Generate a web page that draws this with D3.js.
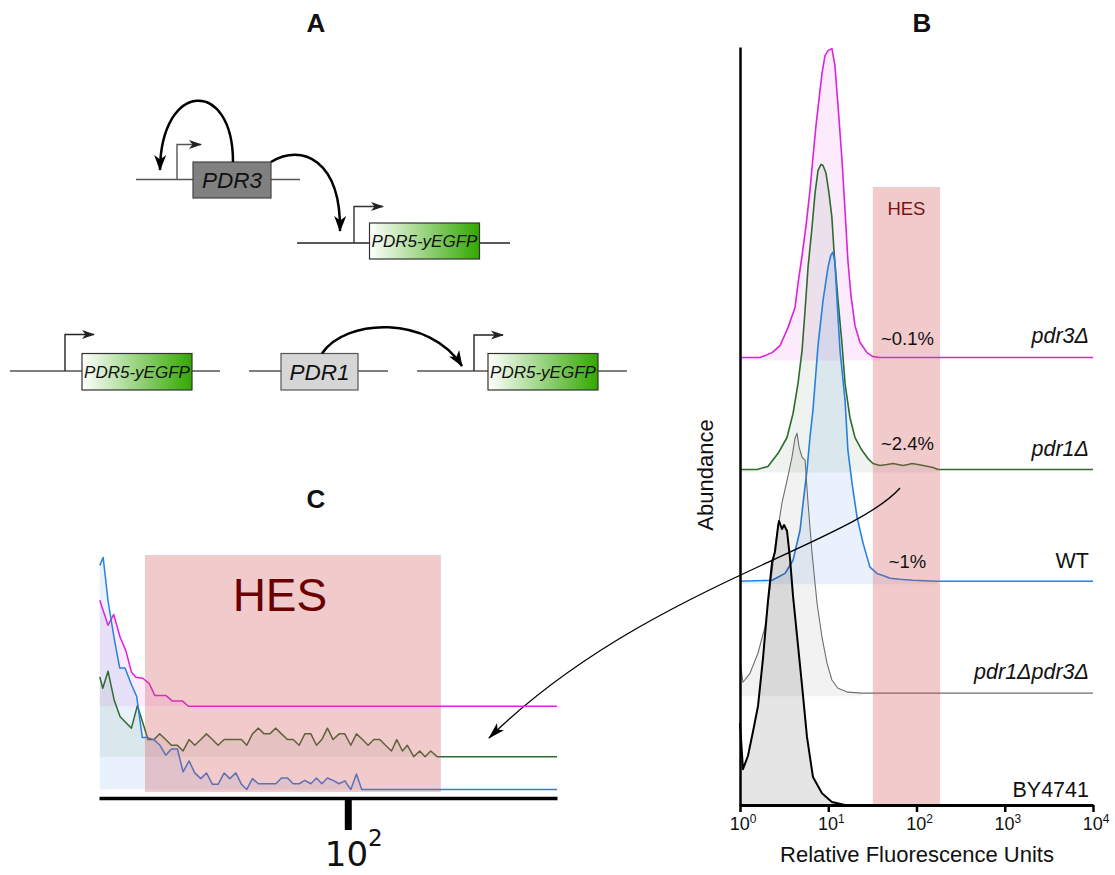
<!DOCTYPE html>
<html><head><meta charset="utf-8">
<script src="https://cdn.jsdelivr.net/npm/d3@7"></script>
<style>
body{margin:0;background:#fff}
text{font-family:"Liberation Sans",Arial,Helvetica,sans-serif;fill:#111}
</style>
</head><body>
<svg id="c" width="1115" height="875"></svg>
<script>
// ---------------- DATA ----------------
// Panel B: flow-cytometry histograms (RFU vs abundance)
const strainNames = ["pdr3Δ","pdr1Δ","WT","pdr1Δpdr3Δ","BY4741"];
const strainItalic = [true,true,false,true,false];
const strainOffsets = [136,102,68,34,0];          // stacking offset (abundance units)
const hesPercentLabels = ["~0.1%","~2.4%","~1%"];
const xTicksB = [1,10,100,1000,10000];
const xTickExpB = ["0","1","2","3","4"];
const hesRangeB = [32,185];

const pdr3RFU = [1,1.69,2.31,2.84,3.50,4.20,4.54,5.05,5.60,6.21,6.71,7.26,7.66,8.49,9.18,9.93,11.0,11.9,12.9,14.3,15.5,16.7,18.1,20.1,22.9,27.5,32.1,38.5,10000];
const pdr3Abund = [0,0,1.5,3.6,9.1,15.2,22.5,31.0,40.1,50.8,60.8,70.5,76.0,86.3,91.8,93.3,93.9,88.8,76.6,60.2,44.7,29.5,18.8,9.7,4.6,1.5,0.3,0,0];

const pdr1RFU = [1,1.56,2.07,2.70,3.41,3.99,4.54,5.05,5.46,5.90,6.55,7.08,7.66,8.28,8.73,9.44,10.2,11.0,11.6,12.9,14.3,15.5,17.6,20.1,24.1,28.2,32.1,38.5,46.3,54.2,61.7,70.3,80.2,88.9,104,119,135,154,175,10000];
const pdr1Abund = [0,0,0.9,4.9,9.7,17.0,26.1,36.2,48.3,61.4,73.6,83.9,90.9,92.7,92.4,90.0,83.9,76.6,66.6,51.4,38.3,26.1,15.8,9.7,5.8,3.3,1.8,1.2,1.5,1.8,1.5,1.2,1.5,1.8,1.5,1.2,0.9,0.6,0,0];

const wtRFU = [1,2.31,3.24,3.99,4.79,5.18,5.74,6.21,6.71,7.66,8.73,9.93,10.7,11.3,11.9,12.9,13.6,15.5,16.7,18.6,21.2,24.8,29.7,35.6,44.0,50.1,65.0,91.2,171,10000];
const wtAbund = [0,0.3,2.4,6.4,15.5,23.7,33.7,43.8,52.0,71.7,85.4,95.4,99.1,100,97.0,80.2,70.2,55.0,39.8,29.8,19.5,11.6,4.3,2.4,1.5,0.9,0.6,0.3,0,0];

const dblRFU = [1,1.08,1.30,1.60,1.92,2.19,2.49,2.99,3.41,3.88,4.20,4.43,4.67,5.05,5.46,5.90,6.55,7.46,8.49,9.68,11.0,12.9,16.7,24.1,10000];
const dblAbund = [10.0,3.3,6.1,12.2,20.1,32.2,44.4,57.8,64.7,71.7,77.5,79.0,74.8,71.7,70.8,57.8,42.6,27.4,17.0,9.1,4.0,1.5,0.3,0,0];

const byRFU = [1,1.08,1.23,1.40,1.60,1.82,2.07,2.31,2.49,2.70,2.77,2.99,3.16,3.41,3.69,3.99,4.43,5.05,5.74,6.71,8.49,11.0,15.5];
const byAbund = [24.9,10.9,14.9,22.2,30.1,44.4,61.7,73.9,76.9,84.8,86.3,83.9,85.1,83.3,74.8,63.5,51.4,36.2,20.7,8.5,3.6,0.9,0];

// Panel C: zoom on the HES region (log10 RFU vs cell counts)
const cNames = ["pdr3Δ","pdr1Δ","WT"];
const cOffsets = [16.1,7.25,1.5];
const hesRangeC = [1.462,2.247];
const xTicksC = [2];

const pdr3LogC = [1.342,1.364,1.379,1.396,1.411,1.426,1.438,1.456,1.473,1.488,1.517,1.535,1.562,1.577,2.555];
const pdr3CountC = [18.6,14.2,16.1,12.1,9.8,6.0,5.1,4.9,4.0,1.9,1.9,0.9,0.9,0,0];

const pdr1LogC = [1.342,1.350,1.364,1.380,1.396,1.426,1.442,1.456,1.470,1.486,1.501,1.517,1.532,1.548,1.563,1.579,1.594,1.610,1.625,1.641,1.656,1.672,1.687,1.703,1.718,1.732,1.747,1.763,1.778,1.793,1.809,1.824,1.840,1.855,1.871,1.886,1.902,1.917,1.931,1.946,1.961,1.977,1.992,2.008,2.023,2.039,2.054,2.069,2.085,2.100,2.116,2.130,2.145,2.158,2.175,2.191,2.205,2.220,2.237,2.555];
const pdr1CountC = [14,12,15,10,7,5,9,6,3,3,4,3,2,2,1,3,2,3,4,3,2,3,3,3,3,2,4,5,4,4,5,4,3,3,2,4,4,2,3,5,3,4,4,2,4,3,2,3,3,2,1,3,1,2,0,1,0,1,0,0];

const wtLogC = [1.342,1.351,1.364,1.380,1.395,1.409,1.426,1.440,1.455,1.468,1.486,1.501,1.517,1.532,1.548,1.563,1.579,1.594,1.610,1.625,1.641,1.656,1.672,1.687,1.703,1.718,1.732,1.747,1.763,1.778,1.793,1.809,1.824,1.840,1.855,1.871,1.886,1.902,1.917,1.931,1.946,1.961,1.977,1.992,2.008,2.023,2.037,2.555];
const wtCountC = [39.3,40.7,33.1,26.6,21.3,21.3,18.4,16.3,9.1,9.1,8.7,7.8,6.0,7.1,7.1,3.1,5.0,2.9,1.9,2.9,0.9,0.9,2.9,1.9,2.9,0.9,0,1.9,1,1,1,1,2,2,1,1,1.6,1,2,1,2,1.6,1,1.5,0,2.7,0,0];

// ---------------- STYLES ----------------
const lineColors = ["#dd22dd","#2e6b2e","#2a80dd","#6e6e6e","#000000"];
const fillColors = ["rgba(224,34,224,0.09)","rgba(46,107,46,0.08)","rgba(42,128,221,0.10)","rgba(0,0,0,0.05)","rgba(0,0,0,0.10)"];
const lineWidths = [1.6,1.6,1.6,1.1,2];
const hesFill = "rgb(210,80,85)";

// ---------------- DRAW ----------------
const svg = d3.select("#c");
const defs = svg.append("defs");
const grad = defs.append("linearGradient").attr("id","gfp").attr("x1","0%").attr("x2","100%").attr("y1","0%").attr("y2","0%");
grad.append("stop").attr("offset","0%").attr("stop-color","#ffffff");
grad.append("stop").attr("offset","100%").attr("stop-color","#33a800");

function addMarker(id, d, w, h, refX, color){
  defs.append("marker").attr("id",id).attr("markerUnits","userSpaceOnUse")
    .attr("markerWidth",w).attr("markerHeight",h)
    .attr("viewBox",`0 ${-h/2} ${w} ${h}`).attr("refX",refX).attr("refY",0).attr("orient","auto")
    .append("path").attr("d",d).attr("fill",color);
}
addMarker("prom","M0,-4.5L13,0L0,4.5L3.5,0Z",14,10,12,"#222");
addMarker("head","M0,-6L16,0L0,6L4.5,0Z",17,13,15,"#000");
addMarker("thin","M0,-5L17,0L0,5L4,0Z",18,11,16,"#000");

// ---- Panel titles ----
const titles = [["A",316,32],["B",922,32],["C",316,508]];
svg.selectAll("text.title").data(titles).join("text").attr("class","title")
  .attr("x",d=>d[1]).attr("y",d=>d[2]).attr("text-anchor","middle")
  .style("font-size","26px").style("font-weight","bold").text(d=>d[0]);

// ---- Panel A: gene diagrams ----
const A = svg.append("g");
function geneLine(x1,x2,y,color){A.append("path").attr("d",`M${x1},${y}H${x2}`).attr("stroke",color).attr("stroke-width",1.4).attr("fill","none");}
function promoter(x,y0,y1,x2,color){A.append("path").attr("d",`M${x},${y0}V${y1}H${x2}`).attr("stroke",color).attr("stroke-width",1.4).attr("fill","none").attr("marker-end","url(#prom)");}
function box(x,y,w,h,fill,stroke,label,fs){
  A.append("rect").attr("x",x).attr("y",y).attr("width",w).attr("height",h).attr("fill",fill).attr("stroke",stroke).attr("stroke-width",1.2);
  A.append("text").attr("x",x+w/2).attr("y",y+h/2+fs*0.36).attr("text-anchor","middle")
   .style("font-size",fs+"px").style("font-style","italic").text(label);
}
function curvedArrow(d){A.append("path").attr("d",d).attr("stroke","#000").attr("stroke-width",2.5).attr("fill","none").attr("marker-end","url(#head)");}

// row 1
geneLine(136,300,179.5,"#555");
promoter(177,179.5,144.5,201,"#555");
box(193,162,78,36,"#808080","#444","PDR3",22.5);
geneLine(297,510,243,"#222");
promoter(354,243,206.5,383,"#333");
box(369.5,223,110,36,"url(#gfp)","#333","PDR5-yEGFP",17);
curvedArrow("M233,162C233,78 161,80 160,170");
curvedArrow("M271,162C302,143 341,160 340,231");
// row 2
geneLine(10,220,371,"#555");
promoter(65,371,334.5,94,"#222");
box(82,353.5,110,36.5,"url(#gfp)","#333","PDR5-yEGFP",17);
geneLine(249,388,371,"#555");
box(281,353.5,77,36.5,"#d6d6d6","#555","PDR1",22.5);
geneLine(417,627,371,"#555");
promoter(474,371,335,503,"#222");
box(488,353.5,110,36.5,"url(#gfp)","#333","PDR5-yEGFP",17);
curvedArrow("M322,353.5C345,318 430,315 462,366");

// ---- Panel B ----
const xB = d3.scaleLog().domain([1,1e4]).range([740,1093]);
const yB = d3.scaleLinear().domain([0,230.4]).range([805,47]);
const seriesB = [[pdr3RFU,pdr3Abund],[pdr1RFU,pdr1Abund],[wtRFU,wtAbund],[dblRFU,dblAbund],[byRFU,byAbund]];
const B = svg.append("g");
seriesB.forEach((s,i)=>{
  const pts = d3.zip(s[0],s[1]);
  const off = strainOffsets[i];
  const fillPts = (i<4) ? pts.slice(0,-1) : pts;
  const area = d3.area().x(d=>xB(d[0])).y0(yB(off)+(i<4?3:0)).y1(d=>yB(d[1]+off));
  B.append("path").datum(fillPts).attr("d",area).attr("fill",fillColors[i]);
  const line = d3.line().x(d=>xB(d[0])).y(d=>yB(d[1]+off));
  B.append("path").datum(pts).attr("d",line).attr("fill","none")
    .attr("stroke",lineColors[i]).attr("stroke-width",lineWidths[i]).attr("stroke-linejoin","round");
});
// HES band on top
B.append("rect").attr("x",xB(hesRangeB[0])).attr("width",xB(hesRangeB[1])-xB(hesRangeB[0]))
  .attr("y",187).attr("height",yB(0)-187).attr("fill",hesFill).attr("opacity",0.3);
const hesMidB = xB(Math.sqrt(hesRangeB[0]*hesRangeB[1]));
B.append("text").attr("x",hesMidB).attr("y",215).attr("text-anchor","middle")
  .style("font-size","18.5px").style("fill","#7a1414").text("HES");
const pctY = [345,450,568];
hesPercentLabels.forEach((t,i)=>{
  B.append("text").attr("x",hesMidB+1).attr("y",pctY[i]).attr("text-anchor","middle").style("font-size","18.5px").text(t);
});
const nameY = [343,456,568,679,797];
strainNames.forEach((t,i)=>{
  B.append("text").attr("x",1089).attr("y",nameY[i]).attr("text-anchor","end")
   .style("font-size","21.5px").style("font-style",strainItalic[i]?"italic":"normal").text(t);
});
// axes
const axB = B.append("g").attr("transform","translate(0,805)")
  .call(d3.axisBottom(xB).tickValues(xTicksB).tickSize(7).tickSizeOuter(0).tickFormat(""));
axB.select(".domain").attr("stroke","#000").attr("stroke-width",3);
axB.selectAll(".tick line").attr("stroke","#000").attr("stroke-width",2.5);
const ayB = B.append("g").attr("transform","translate(740,0)")
  .call(d3.axisLeft(yB).tickValues([]).tickSizeOuter(0));
ayB.select(".domain").attr("stroke","#000").attr("stroke-width",2.5);
xTicksB.forEach((v,i)=>{
  const t = B.append("text").attr("x",xB(v)+3).attr("y",830).attr("text-anchor","middle").style("font-size","18px");
  t.append("tspan").text("10");
  t.append("tspan").attr("dy",-7).style("font-size","12px").text(xTickExpB[i]);
});
B.append("text").attr("x",917).attr("y",862).attr("text-anchor","middle").style("font-size","22px").text("Relative Fluorescence Units");
B.append("text").attr("transform","translate(713,475) rotate(-90)").attr("text-anchor","middle").style("font-size","22px").text("Abundance");

// connector arrow from B to C
svg.append("path").attr("d","M900,488C850,545 640,590 489,738").attr("fill","none")
  .attr("stroke","#000").attr("stroke-width",1.3).attr("marker-end","url(#thin)");

// ---- Panel C ----
const xC = d3.scaleLinear().domain([1.34,2.555]).range([99,557]);
const yC = d3.scaleLinear().domain([0,42.8]).range([798,554]);
const seriesC = [[pdr3LogC,pdr3CountC],[pdr1LogC,pdr1CountC],[wtLogC,wtCountC]];
const C = svg.append("g");
seriesC.forEach((s,i)=>{
  const pts = d3.zip(s[0],s[1]);
  const off = cOffsets[i];
  const area = d3.area().x(d=>xC(d[0])).y0(yC(off)).y1(d=>yC(d[1]+off));
  C.append("path").datum(pts).attr("d",area).attr("fill",fillColors[i]);
});
seriesC.forEach((s,i)=>{
  const pts = d3.zip(s[0],s[1]);
  const off = cOffsets[i];
  const line = d3.line().x(d=>xC(d[0])).y(d=>yC(d[1]+off));
  C.append("path").datum(pts).attr("d",line).attr("fill","none")
    .attr("stroke",lineColors[i]).attr("stroke-width",1.5).attr("stroke-linejoin","round");
});
C.append("rect").attr("x",xC(hesRangeC[0])).attr("width",xC(hesRangeC[1])-xC(hesRangeC[0]))
  .attr("y",555).attr("height",792-555).attr("fill",hesFill).attr("opacity",0.3);
C.append("text").attr("x",(xC(hesRangeC[0])+xC(hesRangeC[1]))/2-13).attr("y",611).attr("text-anchor","middle")
  .style("font-size","46px").style("fill","#6b0000").text("HES");
const axC = C.append("g").attr("transform","translate(0,798)")
  .call(d3.axisBottom(xC).tickValues(xTicksC).tickSize(32).tickSizeOuter(0).tickFormat(""));
axC.select(".domain").attr("stroke","#000").attr("stroke-width",3.5);
axC.selectAll(".tick line").attr("stroke","#000").attr("stroke-width",7);
xTicksC.forEach(v=>{
  const t = C.append("text").attr("x",xC(v)+6).attr("y",866).attr("text-anchor","middle")
    .style("font-family","'DejaVu Sans',sans-serif").style("font-size","34px");
  t.append("tspan").text("10");
  t.append("tspan").attr("dy",-20).style("font-size","23px").text(String(v));
});
</script>
</body></html>
